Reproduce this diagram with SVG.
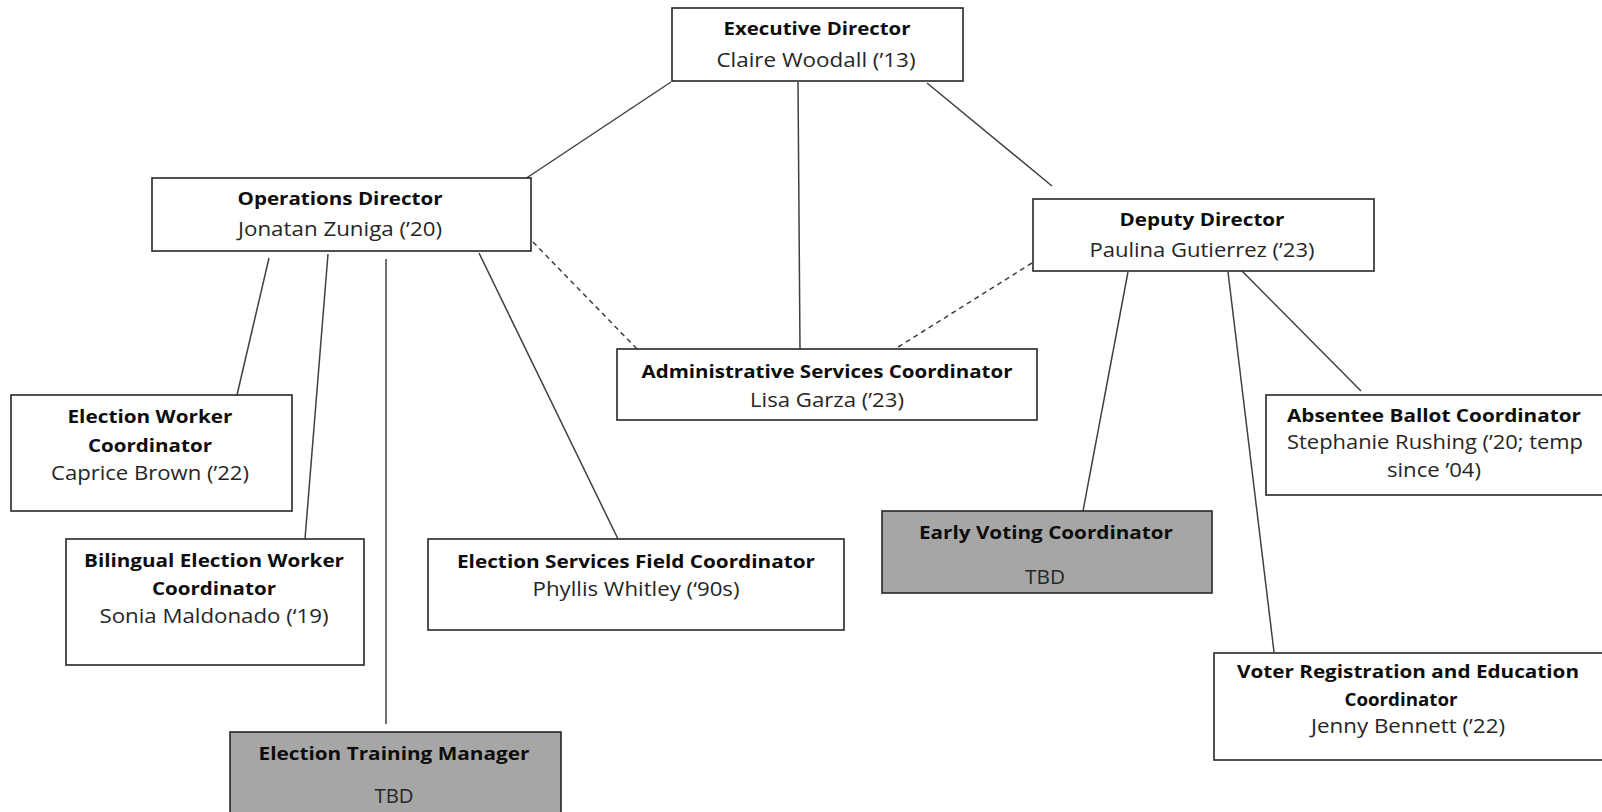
<svg xmlns="http://www.w3.org/2000/svg" width="1602" height="812" viewBox="0 0 1602 812">
<style>
.box{fill:#ffffff;stroke:#262626;stroke-width:1.6}
.tbd{fill:#a6a6a6;stroke:#262626;stroke-width:1.6}
.t{font-family:"Open Sans",Lato,sans-serif;font-size:17.5px;font-weight:700;fill:#0d0d0d;text-anchor:middle}
.n{font-family:"Open Sans",Lato,sans-serif;font-size:20px;font-weight:400;fill:#262626;text-anchor:middle}
.c{stroke:#404040;stroke-width:1.5;fill:none}
.d{stroke:#404040;stroke-width:1.5;fill:none;stroke-dasharray:5,4}
</style>
<rect width="1602" height="812" fill="#ffffff"/>
<g id="connectors">
<line class="c" x1="671" y1="82" x2="513" y2="187"/>
<line class="c" x1="798" y1="82" x2="800" y2="349"/>
<line class="c" x1="927" y1="83" x2="1052" y2="186"/>
<line class="c" x1="269" y1="258" x2="237" y2="395"/>
<line class="c" x1="328" y1="254" x2="305" y2="539"/>
<line class="c" x1="386" y1="259" x2="386" y2="724"/>
<line class="c" x1="479" y1="253" x2="618" y2="539"/>
<line class="d" x1="533" y1="242" x2="637" y2="349"/>
<line class="d" x1="1032" y1="263" x2="895" y2="349"/>
<line class="c" x1="1128" y1="272" x2="1083" y2="511"/>
<line class="c" x1="1228" y1="272" x2="1274" y2="652"/>
<line class="c" x1="1242" y1="271" x2="1361" y2="391"/>
</g>
<g id="exec">
<rect class="box" x="672" y="8" width="291" height="73"/>
<text class="t" x="817" y="35" textLength="187" lengthAdjust="spacingAndGlyphs">Executive Director</text>
<text class="n" x="816" y="67" textLength="199" lengthAdjust="spacingAndGlyphs">Claire Woodall (’13)</text>
</g>
<g id="ops">
<rect class="box" x="152" y="178" width="379" height="73"/>
<text class="t" x="340" y="205" textLength="205" lengthAdjust="spacingAndGlyphs">Operations Director</text>
<text class="n" x="340" y="236" textLength="204" lengthAdjust="spacingAndGlyphs">Jonatan Zuniga (’20)</text>
</g>
<g id="deputy">
<rect class="box" x="1033" y="199" width="341" height="72"/>
<text class="t" x="1202" y="226" textLength="165" lengthAdjust="spacingAndGlyphs">Deputy Director</text>
<text class="n" x="1202" y="257" textLength="225" lengthAdjust="spacingAndGlyphs">Paulina Gutierrez (’23)</text>
</g>
<g id="admin">
<rect class="box" x="617" y="349" width="420" height="71"/>
<text class="t" x="827" y="378" textLength="371" lengthAdjust="spacingAndGlyphs">Administrative Services Coordinator</text>
<text class="n" x="827" y="407" textLength="154" lengthAdjust="spacingAndGlyphs">Lisa Garza (’23)</text>
</g>
<g id="electionWorker">
<rect class="box" x="11" y="395" width="281" height="116"/>
<text class="t" x="150" y="423" textLength="165" lengthAdjust="spacingAndGlyphs">Election Worker</text>
<text class="t" x="150" y="452" textLength="124" lengthAdjust="spacingAndGlyphs">Coordinator</text>
<text class="n" x="150" y="480" textLength="198" lengthAdjust="spacingAndGlyphs">Caprice Brown (’22)</text>
</g>
<g id="bilingual">
<rect class="box" x="66" y="539" width="298" height="126"/>
<text class="t" x="214" y="567" textLength="260" lengthAdjust="spacingAndGlyphs">Bilingual Election Worker</text>
<text class="t" x="214" y="595" textLength="124" lengthAdjust="spacingAndGlyphs">Coordinator</text>
<text class="n" x="214" y="623" textLength="229" lengthAdjust="spacingAndGlyphs">Sonia Maldonado (‘19)</text>
</g>
<g id="field">
<rect class="box" x="428" y="539" width="416" height="91"/>
<text class="t" x="636" y="568" textLength="358" lengthAdjust="spacingAndGlyphs">Election Services Field Coordinator</text>
<text class="n" x="636" y="596" textLength="207" lengthAdjust="spacingAndGlyphs">Phyllis Whitley (‘90s)</text>
</g>
<g id="training">
<rect class="tbd" x="230" y="732" width="331" height="90"/>
<text class="t" x="394" y="760" textLength="271" lengthAdjust="spacingAndGlyphs">Election Training Manager</text>
<text class="n" x="394" y="803" textLength="39" lengthAdjust="spacingAndGlyphs">TBD</text>
</g>
<g id="earlyVoting">
<rect class="tbd" x="882" y="511" width="330" height="82"/>
<text class="t" x="1046" y="539" textLength="254" lengthAdjust="spacingAndGlyphs">Early Voting Coordinator</text>
<text class="n" x="1045" y="584" textLength="40" lengthAdjust="spacingAndGlyphs">TBD</text>
</g>
<g id="absentee">
<rect class="box" x="1266" y="395" width="345" height="100"/>
<text class="t" x="1434" y="422" textLength="294" lengthAdjust="spacingAndGlyphs">Absentee Ballot Coordinator</text>
<text class="n" x="1435" y="449" textLength="296" lengthAdjust="spacingAndGlyphs">Stephanie Rushing (’20; temp</text>
<text class="n" x="1434" y="477" textLength="94" lengthAdjust="spacingAndGlyphs">since ’04)</text>
</g>
<g id="voterReg">
<rect class="box" x="1214" y="653" width="396" height="107"/>
<text class="t" x="1408" y="678" textLength="342" lengthAdjust="spacingAndGlyphs">Voter Registration and Education</text>
<text class="t" x="1401" y="706" textLength="113" lengthAdjust="spacingAndGlyphs">Coordinator</text>
<text class="n" x="1408" y="733" textLength="194" lengthAdjust="spacingAndGlyphs">Jenny Bennett (’22)</text>
</g>
</svg>
